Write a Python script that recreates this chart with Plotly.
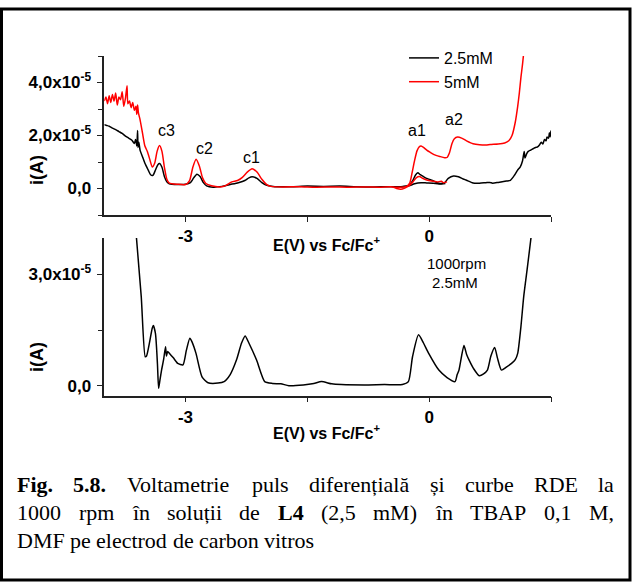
import plotly.graph_objects as go

W, H = 632, 582

# ---------------- Differential pulse voltammetry (currents in 1e-5 A) ----------------
# 2.5 mM, cathodic scan
dpv25_cat_E = [-4.00, -3.97, -3.94, -3.90, -3.86, -3.82, -3.78, -3.74, -3.70, -3.66, -3.63,
               -3.615, -3.60, -3.59, -3.585, -3.575, -3.56, -3.53, -3.50, -3.46, -3.43, -3.40,
               -3.37, -3.34, -3.32, -3.29, -3.26, -3.23, -3.20, -3.10, -3.00, -2.94, -2.90,
               -2.86, -2.82, -2.78, -2.74, -2.66, -2.55, -2.45, -2.35, -2.27, -2.22, -2.18,
               -2.12, -2.06, -2.00, -1.90, -1.70, -1.50, -1.30, -1.10, -0.90, -0.70, -0.50,
               -0.35, -0.25, -0.18, -0.10, -0.03, 0.05, 0.12, 0.20]
dpv25_cat_i = [2.41, 2.38, 2.35, 2.28, 2.22, 2.15, 2.08, 1.98, 1.90, 1.82, 1.70,
               1.85, 1.60, 2.19, 1.55, 1.75, 1.45, 1.20, 0.95, 0.70, 0.52, 0.50,
               0.70, 0.90, 0.94, 0.80, 0.45, 0.25, 0.18, 0.15, 0.16, 0.22, 0.40,
               0.54, 0.45, 0.22, 0.10, 0.05, 0.08, 0.15, 0.22, 0.30, 0.40, 0.44,
               0.38, 0.22, 0.12, 0.07, 0.07, 0.09, 0.08, 0.09, 0.07, 0.06, 0.07,
               0.07, 0.10, 0.18, 0.22, 0.21, 0.20, 0.17, 0.19]

# 2.5 mM, anodic scan
dpv25_an_E = [-0.35, -0.25, -0.20, -0.17, -0.14, -0.11, -0.07, -0.03, 0.04, 0.13, 0.19,
              0.235, 0.30, 0.36, 0.42, 0.46, 0.54, 0.62, 0.70, 0.75, 0.78, 0.85, 0.95,
              1.00, 1.05, 1.09, 1.12, 1.15, 1.17, 1.18, 1.20, 1.22, 1.25, 1.28, 1.31,
              1.33, 1.36, 1.38, 1.40, 1.42, 1.44, 1.45, 1.47, 1.48, 1.49, 1.50]
dpv25_an_i = [0.06, 0.12, 0.31, 0.50, 0.59, 0.52, 0.45, 0.38, 0.30, 0.19, 0.22,
              0.38, 0.47, 0.44, 0.36, 0.31, 0.21, 0.20, 0.22, 0.23, 0.20, 0.23, 0.28,
              0.31, 0.50, 0.70, 0.81, 1.05, 1.40, 1.15, 1.31, 1.40, 1.45, 1.50, 1.55,
              1.56, 1.65, 1.75, 1.68, 1.85, 1.80, 1.94, 1.90, 2.10, 1.95, 2.19]

# 5 mM, cathodic scan
dpv5_cat_E = [-4.00, -3.98, -3.96, -3.94, -3.92, -3.90, -3.88, -3.86, -3.84, -3.82, -3.80,
              -3.78, -3.76, -3.74, -3.72, -3.71, -3.69, -3.67, -3.65, -3.63, -3.61, -3.60,
              -3.59, -3.58, -3.56, -3.53, -3.50, -3.47, -3.44, -3.41, -3.38, -3.35, -3.32,
              -3.29, -3.26, -3.23, -3.20, -3.10, -3.00, -2.95, -2.91, -2.87, -2.83, -2.79,
              -2.75, -2.68, -2.57, -2.50, -2.43, -2.36, -2.30, -2.24, -2.18, -2.12, -2.06,
              -2.00, -1.95, -1.80, -1.60, -1.40, -1.20, -1.00, -0.80, -0.60, -0.45, -0.40,
              -0.35, -0.30, -0.25, -0.20, -0.16, -0.12, -0.08, -0.03, 0.03, 0.10, 0.15,
              0.18, 0.22]
dpv5_cat_i = [3.30, 3.45, 3.20, 3.50, 3.25, 3.55, 3.30, 3.60, 3.15, 3.45, 3.35,
              3.65, 3.10, 3.40, 3.88, 3.20, 3.30, 3.05, 3.25, 2.95, 3.10, 2.80,
              3.15, 2.85, 2.60, 2.10, 1.60, 1.40, 1.10, 0.81, 0.95, 1.40, 1.62,
              1.40, 0.80, 0.35, 0.20, 0.16, 0.15, 0.30, 0.80, 1.10, 0.85, 0.40,
              0.19, 0.10, 0.06, 0.12, 0.25, 0.30, 0.42, 0.62, 0.75, 0.62, 0.35,
              0.15, 0.08, 0.06, 0.07, 0.05, 0.06, 0.05, 0.06, 0.05, 0.06, 0.00,
              -0.03, 0.02, 0.10, 0.25, 0.40, 0.45, 0.38, 0.32, 0.28, 0.25, 0.27,
              0.22, 0.25]

# 5 mM, anodic scan
dpv5_an_E = [-0.45, -0.35, -0.28, -0.24, -0.21, -0.18, -0.15, -0.12, -0.10, -0.07, -0.03,
             0.01, 0.06, 0.13, 0.19, 0.22, 0.25, 0.28, 0.31, 0.35, 0.40, 0.46, 0.54,
             0.62, 0.70, 0.75, 0.85, 0.93, 0.98, 1.02, 1.06, 1.09, 1.11, 1.13, 1.15, 1.16]
dpv5_an_i = [0.05, 0.05, 0.08, 0.20, 0.60, 1.05, 1.42, 1.58, 1.60, 1.55, 1.45,
             1.37, 1.28, 1.21, 1.16, 1.17, 1.35, 1.69, 1.88, 1.94, 1.90, 1.80, 1.69,
             1.65, 1.64, 1.66, 1.68, 1.72, 1.80, 2.00, 2.50, 3.10, 3.60, 4.20, 4.70, 5.00]

# ---------------- RDE, 1000 rpm, 2.5 mM (currents in 1e-5 A) ----------------
rde_E = [-3.605, -3.545, -3.496, -3.48, -3.44, -3.41, -3.396, -3.37, -3.346, -3.331, -3.315,
         -3.295, -3.27, -3.246, -3.235, -3.22, -3.197, -3.15, -3.096, -3.032, -2.99, -2.947,
         -2.92, -2.871, -2.797, -2.723, -2.60, -2.525, -2.45, -2.373, -2.31, -2.266, -2.22,
         -2.125, -2.025, -1.93, -1.826, -1.727, -1.55, -1.42, -1.326, -1.20, -1.079, -0.80,
         -0.55, -0.33, -0.256, -0.205, -0.131, -0.07, -0.006, 0.119, 0.22, 0.318, 0.345,
         0.367, 0.428, 0.46, 0.492, 0.55, 0.617, 0.67, 0.717, 0.76, 0.806, 0.84, 0.89,
         0.95, 1.014, 1.06, 1.09, 1.13, 1.164, 1.21, 1.255]
rde_i = [4.01, 2.40, 0.78, 0.80, 1.20, 1.55, 1.62, 1.40, 0.60, -0.07, 0.15,
         0.42, 0.70, 1.05, 0.80, 0.92, 0.87, 0.75, 0.60, 0.56, 0.95, 1.28,
         1.18, 0.87, 0.24, 0.08, 0.07, 0.11, 0.30, 0.69, 1.15, 1.34, 1.15,
         0.69, 0.11, 0.06, 0.05, 0.00, 0.02, 0.06, 0.11, 0.05, 0.03, 0.02,
         0.03, 0.03, 0.11, 0.78, 1.37, 1.15, 0.87, 0.42, 0.22, 0.11, 0.30,
         0.42, 1.08, 0.85, 0.69, 0.45, 0.27, 0.32, 0.42, 0.80, 1.03, 0.75, 0.42,
         0.50, 0.60, 0.70, 0.87, 1.60, 2.40, 3.20, 4.01]

UNIT = 1e-5

# Peak labels on the DPV panel
peak_labels = ["c3", "c2", "c1", "a1", "a2"]
peak_label_E = [-3.24, -2.77, -2.19, -0.15, 0.30]
peak_label_i = [2.20, 1.52, 1.16, 2.19, 2.60]

# Tick labels
x_ticks = [-3, 0]
x_ticktext = ["-3", "0"]
top_y_ticks = [0, 2, 4]
top_y_ticktext = ["0,0", "2,0x10<sup>-5</sup>", "4,0x10<sup>-5</sup>"]
bot_y_ticks = [0, 3]
bot_y_ticktext = ["0,0", "3,0x10<sup>-5</sup>"]

# Caption
caption_lines = [
    [("Fig.", True), ("5.8.", True), ("Voltametrie", False), ("puls", False),
     ("diferențială", False), ("și", False), ("curbe", False), ("RDE", False), ("la", False)],
    [("1000", False), ("rpm", False), ("în", False), ("soluții", False), ("de", False),
     ("L4", True), ("(2,5", False), ("mM)", False), ("în", False), ("TBAP", False),
     ("0,1", False), ("M,", False)],
    [("DMF", False), ("pe", False), ("electrod", False), ("de", False), ("carbon", False),
     ("vitros", False)],
]

# ---------------------------------------------------------------------------
def px(x):
    return x / W


def py(y):
    return 1 - y / H


SANS = "Liberation Sans, Arial, sans-serif"
SERIF = "Liberation Serif, Times New Roman, serif"

fig = go.Figure()

scale = lambda v: [a * UNIT for a in v]
LINE = dict(width=1.5, shape="spline", smoothing=0.6)

fig.add_trace(go.Scatter(x=dpv25_cat_E, y=scale(dpv25_cat_i), mode="lines",
                         line=dict(color="black", **LINE), name="2.5mM",
                         legendgroup="a", xaxis="x", yaxis="y"))
fig.add_trace(go.Scatter(x=dpv25_an_E, y=scale(dpv25_an_i), mode="lines",
                         line=dict(color="black", **LINE), name="2.5mM",
                         legendgroup="a", showlegend=False, xaxis="x", yaxis="y"))
fig.add_trace(go.Scatter(x=dpv5_cat_E, y=scale(dpv5_cat_i), mode="lines",
                         line=dict(color="#ff0000", **LINE), name="5mM",
                         legendgroup="b", xaxis="x", yaxis="y"))
fig.add_trace(go.Scatter(x=dpv5_an_E, y=scale(dpv5_an_i), mode="lines",
                         line=dict(color="#ff0000", **LINE), name="5mM",
                         legendgroup="b", showlegend=False, xaxis="x", yaxis="y"))
fig.add_trace(go.Scatter(x=rde_E, y=scale(rde_i), mode="lines",
                         line=dict(color="black", **LINE), showlegend=False,
                         xaxis="x2", yaxis="y2"))

x_domain = [px(104.3), px(551)]
common_x = dict(range=[-4, 1.5], domain=x_domain, tickmode="array", tickvals=x_ticks,
                ticktext=x_ticktext, ticks="outside", ticklen=5, tickwidth=1.3,
                tickcolor="#222", showline=True, linecolor="#222", linewidth=1.5,
                showgrid=False, zeroline=False, automargin=False,
                tickfont=dict(family=SANS, size=17, color="black", weight="bold"),
                minor=dict(tickmode="array", tickvals=[-1.5, 1.5], ticks="outside",
                           ticklen=5, tickwidth=1.3, tickcolor="#222"))
common_y = dict(ticks="outside", ticklen=6, tickwidth=1.3, tickcolor="#222",
                showline=True, linecolor="#222", linewidth=1.5, showgrid=False,
                zeroline=False, automargin=False, tickmode="array",
                ticklabelstandoff=2,
                tickfont=dict(family=SANS, size=17, color="black", weight="bold"))

fig.update_layout(
    width=W, height=H,
    margin=dict(l=0, r=0, t=0, b=0),
    paper_bgcolor="white", plot_bgcolor="white",
    xaxis=dict(anchor="y", **common_x),
    yaxis=dict(anchor="x", domain=[py(215), py(56)], range=[-1 * UNIT, 5 * UNIT],
               tickvals=scale(top_y_ticks), ticktext=top_y_ticktext,
               minor=dict(tickmode="array", tickvals=scale([-1, 1, 3, 5]), ticks="outside",
                          ticklen=5, tickwidth=1.3, tickcolor="#222"),
               **common_y),
    xaxis2=dict(anchor="y2", **common_x),
    yaxis2=dict(anchor="x2", domain=[py(395.7), py(238)], range=[-0.27 * UNIT, 3.98 * UNIT],
                tickvals=scale(bot_y_ticks), ticktext=bot_y_ticktext,
                minor=dict(tickmode="array", tickvals=scale([1.5]), ticks="outside",
                           ticklen=5, tickwidth=1.3, tickcolor="#222"),
                **common_y),
    showlegend=True,
    legend=dict(x=px(404), y=py(41), xanchor="left", yanchor="top",
                bgcolor="rgba(0,0,0,0)", borderwidth=0,
                font=dict(family=SANS, size=16, color="black"),
                tracegroupgap=0, itemwidth=30),
)

annotations = []
# peak labels
for t, e, i in zip(peak_labels, peak_label_E, peak_label_i):
    annotations.append(dict(x=e, y=i * UNIT, xref="x", yref="y", text=t, showarrow=False,
                            xanchor="center", yanchor="middle",
                            font=dict(family=SANS, size=16, color="black")))
# RDE conditions
annotations.append(dict(x=0.34, y=3.30 * UNIT, xref="x2", yref="y2", text="1000rpm",
                        xanchor="center", yanchor="middle", showarrow=False,
                        font=dict(family=SANS, size=15, color="black")))
annotations.append(dict(x=0.32, y=2.77 * UNIT, xref="x2", yref="y2", text="2.5mM",
                        xanchor="center", yanchor="middle", showarrow=False,
                        font=dict(family=SANS, size=15, color="black")))

# axis titles
for yc in (244, 432):
    annotations.append(dict(x=px(326), y=py(yc), xref="paper", yref="paper",
                            xanchor="center", yanchor="middle",
                            text="E(V) vs Fc/Fc<sup>+</sup>", showarrow=False,
                            font=dict(family=SANS, size=16, color="black", weight="bold")))
for yc in (170, 357):
    annotations.append(dict(x=px(37), y=py(yc), xref="paper", yref="paper",
                            xanchor="center", yanchor="middle",
                            text="i(A)", textangle=-90, showarrow=False,
                            font=dict(family=SANS, size=18, color="black", weight="bold")))

# Caption: justified lines, word widths from Times metrics (1/1000 em)
REG = {' ': 250, ',': 250, '.': 250, '(': 333, ')': 333,
       'A': 722, 'B': 667, 'D': 722, 'E': 611, 'F': 556, 'M': 889, 'P': 556, 'R': 667,
       'T': 611, 'V': 722, 'a': 444, 'b': 500, 'c': 444, 'd': 500, 'e': 444, 'f': 333,
       'i': 278, 'l': 278, 'm': 778, 'n': 500, 'o': 500, 'p': 500, 'r': 333, 's': 389,
       't': 278, 'u': 500, 'v': 500, 'ă': 444, 'î': 278, 'ș': 389, 'ț': 278}
BOLD = {'F': 611, 'i': 278, 'g': 500, '.': 250, 'L': 667}
for d in '0123456789':
    REG[d] = 500
    BOLD[d] = 500

CAP_SIZE = 22
CAP_LEFT, CAP_RIGHT = 17, 614
cap_y = [484, 512, 540]


def word_w(w, bold):
    table = BOLD if bold else REG
    return sum(table.get(ch, 500) for ch in w) * CAP_SIZE / 1000.0


for li, line in enumerate(caption_lines):
    widths = [word_w(w, b) for w, b in line]
    justify = li < len(caption_lines) - 1
    if justify:
        gap = (CAP_RIGHT - CAP_LEFT - sum(widths)) / (len(line) - 1)
    else:
        gap = 250 * CAP_SIZE / 1000.0
    xpos = CAP_LEFT
    for (w, b), wd in zip(line, widths):
        annotations.append(dict(x=px(xpos), y=py(cap_y[li]), xref="paper", yref="paper",
                                xanchor="left", yanchor="middle", text=w, showarrow=False,
                                borderpad=0, borderwidth=0,
                                font=dict(family=SERIF, size=CAP_SIZE, color="black",
                                          weight="bold" if b else "normal")))
        xpos += wd + gap

fig.update_layout(annotations=annotations)

# outer frame
fig.add_shape(type="rect", xref="paper", yref="paper",
              x0=px(1.5), x1=px(630), y0=py(580), y1=py(9),
              line=dict(color="black", width=3), fillcolor="rgba(0,0,0,0)")

fig.write_html("out.html")
